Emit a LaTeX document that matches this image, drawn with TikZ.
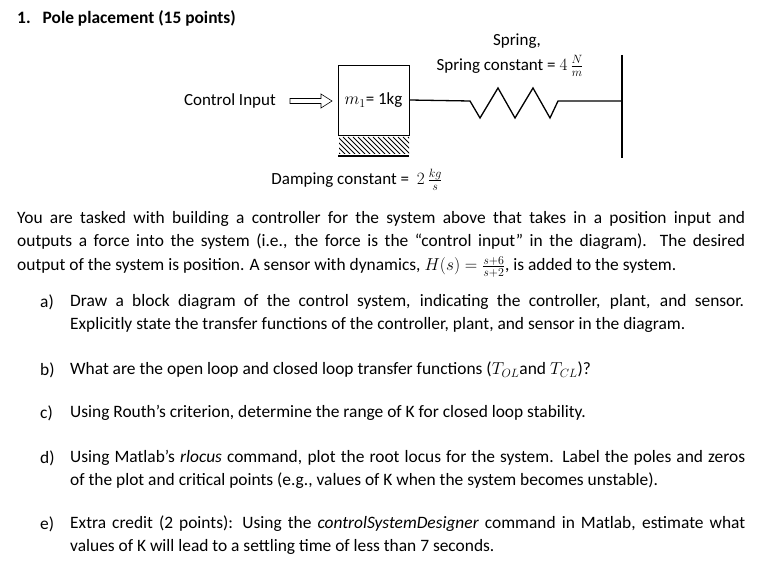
\documentclass[tikz,border=0pt]{standalone}
\usepackage{fontspec}
\setmainfont{Carlito}
\usetikzlibrary{arrows.meta}
\begin{document}
\begin{tikzpicture}[x=1pt,y=-1pt,
  txt/.style={anchor=west,inner sep=0pt,font=\fontsize{17.4}{21}\selectfont},
  ctxt/.style={inner sep=0pt,font=\fontsize{17}{21}\selectfont},
  ln/.style={line width=1.3pt}]
\useasboundingbox (0,0) rectangle (768,580);
\node[txt,font=\fontsize{17.4}{21}\selectfont\bfseries] (title) at (17,18) {1.\hspace{12pt}Pole placement (15 points)};
% diagram
\node[ctxt] (sp1) at (517,41) {Spring,};
\node[ctxt] (sp2) at (510,66) {Spring constant = $4\,\frac{N}{m}$};
\node[ctxt,anchor=east] (ci) at (276,101) {Control Input};
\node[draw,line width=0.8pt,minimum width=71pt,minimum height=70pt,inner sep=0pt,font=\fontsize{17}{21}\selectfont] (m) at (373.5,100) {$m_1$= 1kg};
\draw[line width=0.6pt] (290,98.5) -- (321,98.5) -- (321,94) -- (332,101) -- (321,108) -- (321,103.5) -- (290,103.5) -- cycle;
\begin{scope}
\clip (339,137) rectangle (409,154);
\foreach \i in {-20,-15,...,80} \draw[line width=1pt] (338+\i,137) -- (356+\i,155);
\end{scope}
\draw[ln] (338,156) -- (409,156);
\coordinate (w1) at (622,55); \coordinate (w2) at (622,158);
\draw[line width=1.6pt] (w1) -- (w2);
\draw[ln] (m.east) -- (470,101) -- (480,118) -- (498,88) -- (515,118) -- (533,88) -- (550,118) -- (558,101) -- (622,101);
\node[ctxt] (dc) at (357,180) {Damping constant = \ $2\,\frac{kg}{s}$};
% text
\node[txt] (l1) at (17,219) {\makebox[728pt][s]{You are tasked with building a controller for the system above that takes in a position input and}};
\node[txt] (l2) at (17,242) {\makebox[728pt][s]{outputs a force into the system (i.e., the force is the “control input” in the diagram). The desired}};
\node[txt] (l3) at (17,267) {output of the system is position. A sensor with dynamics, $H(s)=\frac{s+6}{s+2}$, is added to the system.};
\node[txt] (a) at (40,302) {a)};
\node[txt] (a1) at (70,302) {\makebox[674pt][s]{Draw a block diagram of the control system, indicating the controller, plant, and sensor.}};
\node[txt] (a2) at (70,325) {Explicitly state the transfer functions of the controller, plant, and sensor in the diagram.};
\node[txt] (b) at (40,370) {b)};
\node[txt] (b1) at (70,370) {What are the open loop and closed loop transfer functions ($T_{OL}$and $T_{CL}$)?};
\node[txt] (c) at (40,413) {c)};
\node[txt] (c1) at (70,413) {Using Routh’s criterion, determine the range of K for closed loop stability.};
\node[txt] (d) at (40,458) {d)};
\node[txt] (d1) at (70,458) {\makebox[675pt][s]{Using Matlab’s \textit{rlocus} command, plot the root locus for the system. Label the poles and zeros}};
\node[txt] (d2) at (70,481) {of the plot and critical points (e.g., values of K when the system becomes unstable).};
\node[txt] (e) at (40,524) {e)};
\node[txt] (e1) at (70,524) {\makebox[675pt][s]{Extra credit (2 points): Using the \textit{controlSystemDesigner} command in Matlab, estimate what}};
\node[txt] (e2) at (70,547) {values of K will lead to a settling time of less than 7 seconds.};
\end{tikzpicture}
\end{document}
